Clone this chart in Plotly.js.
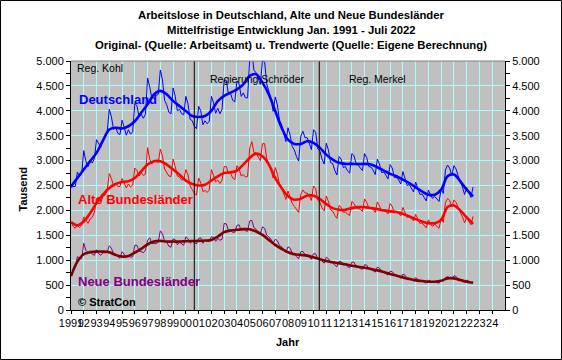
<!DOCTYPE html>
<html>
<head>
<meta charset="utf-8">
<script src="https://cdn.plot.ly/plotly-3.0.1.min.js"></script>
<style>html,body{margin:0;padding:0;background:#fff;}#chart{width:562px;height:360px;}</style>
</head>
<body>
<div id="chart"></div>
<script>
// Tick labels for the year axis
const yearTicks = [1991,1992,1993,1994,1995,1996,1997,1998,1999,2000,2001,2002,2003,2004,2005,2006,2007,2008,2009,2010,2011,2012,2013,2014,2015,2016,2017,2018,2019,2020,2021,2022,2023,2024];
const yearLabels = ['1991','92','93','94','95','96','97','98','99','00','01','02','03','04','05','06','07','08','09','10','11','12','13','14','15','16','17','18','19','20','21','22','23','24'];
const valueTicks = [0,500,1000,1500,2000,2500,3000,3500,4000,4500,5000];

// Title lines
const titleLines = [
  'Arbeitslose in Deutschland, Alte und Neue Bundesländer',
  'Mittelfristige Entwicklung Jan. 1991 - Juli 2022',
  'Original- (Quelle: Arbeitsamt) u. Trendwerte (Quelle: Eigene Berechnung)'
];

// Original values (Tausend), every second month: Jan, Mar, May, Jul, Sep, Nov (Jan 1991 - Jul 2022)
const deOrig = [
 2460,2480,2480,2770,2690,2730, 3200,2990,2880,3000,2950,3040, 3420,3350,3270,3430,3460,3560,
 4030,3880,3630,3670,3550,3520, 3810,3670,3510,3620,3530,3580, 4150,4100,3880,3930,3850,3930,
 4660,4480,4260,4350,4310,4330, 4820,4620,4210,4120,3970,3940, 4460,4290,4000,4030,3940,3920,
 4290,4140,3830,3800,3690,3640, 4090,4000,3720,3800,3740,3790, 4290,4160,3950,4050,3940,4030,
 4620,4610,4340,4350,4210,4180, 4600,4540,4290,4360,4260,4260, 5040,5180,4810,4770,4650,4530,
 5010,4980,4540,4390,4240,3990, 4280,4120,3810,3720,3540,3380, 3660,3510,3280,3210,3080,2990,
 3490,3590,3460,3460,3350,3220, 3620,3570,3240,3190,3030,2930, 3350,3210,2960,2940,2800,2710,
 3080,3030,2860,2880,2790,2750, 3140,3100,2940,2910,2850,2800, 3140,3060,2880,2870,2810,2720,
 3030,2930,2760,2770,2710,2630, 2920,2850,2660,2660,2610,2530, 2780,2660,2500,2520,2450,2370,
 2570,2460,2320,2330,2260,2190, 2410,2300,2240,2280,2230,2180, 2430,2340,2810,2910,2850,2700,
 2900,2830,2690,2590,2470,2320, 2460,2360,2260,2470
];
const abOrig = [
 1760,1680,1640,1700,1660,1700, 1870,1790,1740,1830,1860,1960, 2210,2220,2170,2280,2310,2400,
 2740,2640,2500,2550,2480,2480, 2640,2550,2450,2530,2470,2510, 2850,2800,2690,2760,2700,2730,
 3260,3030,2930,3010,2980,2960, 3230,3090,2830,2760,2690,2680, 3030,2880,2690,2670,2610,2620,
 2820,2710,2490,2420,2340,2310, 2650,2550,2380,2400,2360,2410, 2820,2700,2570,2610,2540,2610,
 2880,2880,2740,2750,2650,2620, 2900,2830,2690,2720,2670,2680, 3250,3380,3160,3150,3080,3000,
 3340,3340,3040,2920,2820,2650, 2860,2730,2520,2450,2330,2220, 2390,2270,2140,2080,2010,1960,
 2320,2410,2350,2350,2290,2200, 2490,2440,2210,2160,2050,1990, 2290,2180,2010,1990,1900,1840,
 2100,2060,1960,1970,1920,1900, 2180,2140,2060,2040,2020,1980, 2230,2160,2050,2050,2020,1960,
 2170,2090,1990,2010,1980,1930, 2140,2080,1950,1960,1940,1890, 2060,1960,1860,1880,1840,1790,
 1920,1840,1740,1750,1700,1650, 1810,1720,1680,1720,1680,1640, 1840,1760,2160,2240,2200,2070,
 2210,2160,2060,1970,1870,1750, 1860,1780,1710,1880
];
const nbOrig = [
 700,800,840,1070,1030,1030, 1340,1200,1150,1190,1120,1100, 1210,1130,1100,1150,1150,1160,
 1290,1240,1130,1120,1070,1040, 1170,1120,1060,1090,1060,1070, 1300,1300,1190,1170,1150,1200,
 1400,1450,1330,1340,1330,1370, 1590,1530,1380,1360,1280,1260, 1430,1410,1310,1360,1330,1300,
 1470,1430,1340,1380,1350,1330, 1440,1450,1340,1400,1380,1380, 1470,1460,1380,1440,1400,1420,
 1740,1730,1600,1600,1560,1560, 1700,1710,1600,1640,1590,1580, 1790,1800,1650,1620,1570,1530,
 1670,1640,1500,1470,1420,1340, 1420,1390,1290,1270,1210,1160, 1270,1240,1140,1130,1070,1030,
 1170,1180,1110,1110,1060,1020, 1130,1130,1030,1030,980,940, 1060,1030,950,950,900,870,
 980,970,900,910,870,850, 960,960,880,870,830,820, 910,900,830,820,790,760,
 860,840,770,760,730,700, 780,770,710,700,670,640, 720,700,640,640,610,580,
 650,620,580,580,560,540, 600,580,560,560,550,540, 590,580,650,670,650,630,
 690,670,630,620,600,570, 600,580,550,560
];

// Trend values (Tausend), Jan and Jul of each year 1991 - 2022
const deTrend = [
 2480,2650, 2820,2990, 3155,3400, 3626,3660, 3645,3690, 3790,3960, 4130,4330, 4400,4330,
 4200,4095, 3995,3895, 3875,3895, 4000,4196, 4300,4365, 4430,4530, 4700,4735, 4565,4330,
 3995,3660, 3420,3335, 3335,3390, 3357,3256, 3120,3020, 2955,2934, 2934,2930, 2934,2920,
 2866,2800, 2733,2685, 2618,2550, 2463,2382, 2315,2315, 2416,2685, 2720,2584, 2416,2282
];
const abTrend = [
 1764,1700, 1777,1945, 2147,2315, 2450,2530, 2570,2584, 2650,2785, 2920,2987, 2987,2920,
 2820,2718, 2597,2530, 2500,2516, 2600,2685, 2752,2765, 2800,2920, 3054,3140, 3088,2920,
 2650,2450, 2282,2214, 2234,2301, 2295,2227, 2127,2046, 2013,2013, 2046,2066, 2066,2046,
 2026,2000, 1980,1966, 1932,1878, 1824,1777, 1744,1744, 1811,2066, 2100,2000, 1858,1730
];
const nbTrend = [
 680,971, 1119,1159, 1173,1173, 1159,1105, 1072,1085, 1152,1226, 1320,1374, 1388,1374,
 1374,1374, 1381,1385, 1388,1395, 1408,1475, 1563,1596, 1610,1623, 1623,1576, 1509,1408,
 1307,1226, 1159,1119, 1105,1092, 1058,1018, 984,957, 937,917, 890,870, 850,823,
 796,763, 722,689, 655,622, 595,581, 568,568, 588,635, 635,601, 568,548
];

// Time positions (decimal years) for the sampling steps
const xOrig = deOrig.map((_, i) => 1991 + (2 * i) / 12);
const xTrend = deTrend.map((_, i) => 1991 + i * 0.5);

const thin = (y, color) => ({x: xOrig, y: y, type: 'scatter', mode: 'lines', line: {color: color, width: 1}, hoverinfo: 'skip'});
const thick = (y, color, axis) => ({x: xTrend, y: y, type: 'scatter', mode: 'lines', line: {color: color, width: 2.6, shape: 'spline', smoothing: 1}, hoverinfo: 'skip', yaxis: axis || 'y'});

const traces = [
  thin(nbOrig, '#800080'), thick(nbTrend, '#800000'),
  thin(abOrig, '#FF0000'), thick(abTrend, '#FF0000'),
  thin(deOrig, '#0000FF'), thick(deTrend, '#0000FF', 'y2')
];

const GRID = '#A8FFFF';
const yCommon = {
  range: [0, 5000], tickmode: 'array', tickvals: valueTicks, tickformat: ',d',
  ticks: 'outside', ticklen: 4, tickcolor: '#000', tickwidth: 1,
  minor: {dtick: 250, ticks: 'outside', ticklen: 4, tickcolor: '#000', showgrid: false},
  showline: true, linecolor: '#000', linewidth: 1, zeroline: false,
  tickfont: {size: 11, color: '#000'}, fixedrange: true
};

const px = v => (v - 71) / 434;   // pixel -> paper x
const py = v => (310 - v) / 249;  // pixel -> paper y

const titleAnn = titleLines.map((t, i) => ({
  xref: 'paper', yref: 'paper', x: px(291), y: py(15 + 15 * i),
  text: '<b>' + t + '</b>', showarrow: false, xanchor: 'center', yanchor: 'middle',
  font: {size: 11.3, color: '#000'}
}));

const layout = {
  width: 562, height: 360,
  margin: {l: 71, r: 57, t: 61, b: 50, pad: 0},
  paper_bgcolor: '#FFFFFF', plot_bgcolor: '#C0C0C0',
  separators: ',.',
  showlegend: false,
  font: {family: 'Arial, "Liberation Sans", sans-serif', size: 11, color: '#000'},
  xaxis: {
    range: [1991, 2025], tickmode: 'array', tickvals: yearTicks, ticktext: yearLabels, tickangle: 0,
    ticks: 'outside', ticklen: 3, tickcolor: '#000',
    showgrid: true, gridcolor: GRID, gridwidth: 1,
    showline: true, linecolor: '#000', linewidth: 1, zeroline: false,
    tickfont: {size: 11, color: '#000'}, fixedrange: true
  },
  yaxis: Object.assign({}, yCommon, {showgrid: true, gridcolor: GRID, gridwidth: 1, side: 'left'}),
  yaxis2: Object.assign({}, yCommon, {showgrid: false, overlaying: 'y', side: 'right'}),
  shapes: [
    {type: 'line', xref: 'x', yref: 'y', x0: 2000.66, x1: 2000.66, y0: 0, y1: 5000, line: {color: '#000', width: 1}},
    {type: 'line', xref: 'x', yref: 'y', x0: 2010.45, x1: 2010.45, y0: 0, y1: 5000, line: {color: '#000', width: 1}},
    {type: 'line', xref: 'paper', yref: 'paper', x0: 0, x1: 1, y0: 1, y1: 1, line: {color: '#808080', width: 1}},
    {type: 'rect', xref: 'paper', yref: 'paper', x0: px(0.5), x1: px(561.5), y0: py(359.5), y1: py(0.5), line: {color: '#000', width: 1}, fillcolor: 'rgba(0,0,0,0)'}
  ],
  annotations: titleAnn.concat([
    {xref: 'x', yref: 'y', x: 1991.3, y: 4859, text: 'Reg. Kohl', showarrow: false, xanchor: 'left', yanchor: 'middle', font: {size: 10.5, color: '#000'}},
    {xref: 'x', yref: 'y', x: 2001.75, y: 4639, text: 'Regierung Schröder', showarrow: false, xanchor: 'left', yanchor: 'middle', font: {size: 10.5, color: '#000'}},
    {xref: 'x', yref: 'y', x: 2012.65, y: 4639, text: 'Reg. Merkel', showarrow: false, xanchor: 'left', yanchor: 'middle', font: {size: 10.5, color: '#000'}},
    {xref: 'x', yref: 'y', x: 1991.45, y: 4217, text: '<b>Deutschland</b>', showarrow: false, xanchor: 'left', yanchor: 'middle', font: {size: 13, color: '#0000FF'}},
    {xref: 'x', yref: 'y', x: 1991.4, y: 2229, text: '<b>Alte Bundesländer</b>', showarrow: false, xanchor: 'left', yanchor: 'middle', font: {size: 13, color: '#FF0000'}},
    {xref: 'x', yref: 'y', x: 1991.4, y: 582, text: '<b>Neue Bundesländer</b>', showarrow: false, xanchor: 'left', yanchor: 'middle', font: {size: 13, color: '#800080'}},
    {xref: 'x', yref: 'y', x: 1991.4, y: 161, text: '<b>© StratCon</b>', showarrow: false, xanchor: 'left', yanchor: 'middle', font: {size: 11, color: '#000'}},
    {xref: 'paper', yref: 'paper', x: px(22.5), y: py(190), text: '<b>Tausend</b>', textangle: -90, showarrow: false, xanchor: 'center', yanchor: 'middle', font: {size: 11, color: '#000'}},
    {xref: 'paper', yref: 'paper', x: px(288), y: py(342), text: '<b>Jahr</b>', showarrow: false, xanchor: 'center', yanchor: 'middle', font: {size: 11, color: '#000'}}
  ])
};

Plotly.newPlot('chart', traces, layout, {staticPlot: true, displayModeBar: false});
</script>
</body>
</html>
